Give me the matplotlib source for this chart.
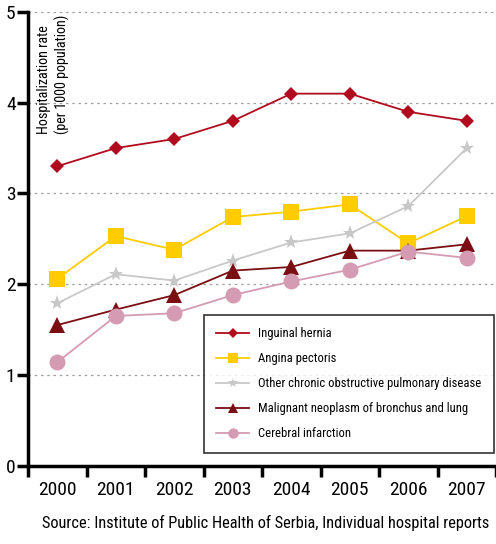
import matplotlib
matplotlib.use("Agg")
import matplotlib.pyplot as plt
from matplotlib import font_manager
from matplotlib.ticker import FixedLocator, NullFormatter

# prefer a narrow sans face for the compact labels
_available = {(f.name, f.stretch) for f in font_manager.fontManager.ttflist}
_names = {n for n, _ in _available}
_pick = None
for cand in ["Liberation Sans Narrow", "Roboto Condensed", "Open Sans Condensed",
             "Noto Sans Condensed", "DejaVu Sans Condensed", "Arial Narrow"]:
    if cand in _names:
        _pick = (cand, "normal")
        break
if _pick is None:
    for n, s in sorted(_available):
        if str(s) in ("condensed", "semi-condensed", "extra-condensed", "600", "700", "75", "87.5") \
                or "Narrow" in n or "Condensed" in n:
            _pick = (n, s)
            break
if _pick is None:
    _pick = ("DejaVu Sans", "normal")

plt.rcParams['font.family'] = [_pick[0], 'DejaVu Sans']
plt.rcParams['font.stretch'] = _pick[1]

years = ["2000", "2001", "2002", "2003", "2004", "2005", "2006", "2007"]
inguinal_hernia = [3.3, 3.5, 3.6, 3.8, 4.1, 4.1, 3.9, 3.8]
angina_pectoris = [2.06, 2.53, 2.38, 2.74, 2.80, 2.88, 2.45, 2.75]
copd = [1.79, 2.11, 2.04, 2.26, 2.46, 2.56, 2.86, 3.5]
lung_cancer = [1.55, 1.72, 1.88, 2.15, 2.19, 2.37, 2.37, 2.44]
cerebral_infarction = [1.14, 1.65, 1.68, 1.88, 2.03, 2.16, 2.36, 2.29]

series = [
    ("Inguinal hernia", inguinal_hernia, "#B00B1E", "D", 7.6),
    ("Angina pectoris", angina_pectoris, "#FFCC00", "s", 11.5),
    ("Other chronic obstructive pulmonary disease", copd, "#C8C8C8", "*", 11),
    ("Malignant neoplasm of bronchus and lung", lung_cancer, "#7A0E12", "^", 11),
    ("Cerebral infarction", cerebral_infarction, "#D49BB2", "o", 11.5),
]

fig = plt.figure(figsize=(4.96, 5.44), dpi=100)
ax = fig.add_axes([0.0565, 0.1439, 0.9435, 0.8341])

x = list(range(len(years)))
for label, vals, color, marker, ms in series:
    ax.plot(x, vals, color=color, lw=1.3, marker=marker, ms=ms,
            markeredgewidth=0, label=label, zorder=3)

ax.set_xlim(-0.5, len(years) - 0.5)
ax.set_ylim(0, 5)
ax.set_yticks([0, 1, 2, 3, 4, 5])
ax.set_yticklabels(["0", "1", "2", "3", "4", "5"], fontsize=14)
ax.yaxis.grid(True, ls=(0, (2, 3)), color="#A0A0A0", lw=0.9)
ax.set_axisbelow(True)

# tick marks sit between the years, labels under each year
ax.xaxis.set_major_locator(FixedLocator([i - 0.5 for i in range(len(years) + 1)]))
ax.xaxis.set_major_formatter(NullFormatter())
ax.xaxis.set_minor_locator(FixedLocator(x))
ax.set_xticklabels(years, minor=True, fontsize=14)
ax.tick_params(axis="x", which="minor", length=0, pad=11)
ax.tick_params(axis="x", which="major", length=8, width=2.5, direction="out")
ax.tick_params(axis="y", length=8, width=2.5, direction="out", pad=1)

for side in ("top", "right"):
    ax.spines[side].set_visible(False)
ax.spines["left"].set_linewidth(2.5)
ax.spines["bottom"].set_linewidth(2.5)

ax.text(0.02, 0.993, "Hospitalization rate\n(per 1000 population)", transform=ax.transAxes,
        rotation=90, ha="left", va="top", fontsize=10.2, linespacing=1.25)

leg = ax.legend(loc="lower right", bbox_to_anchor=(0.9957, 0.028), fontsize=9.1,
                markerscale=0.65, handlelength=2.6, frameon=True, fancybox=False,
                edgecolor="black", borderpad=1.0, labelspacing=0.95, handletextpad=0.7,
                borderaxespad=0)
leg.get_frame().set_linewidth(1.2)

fig.text(0.535, 0.03, "Source: Institute of Public Health of Serbia, Individual hospital reports",
         ha="center", va="baseline", fontsize=11.8)

fig.savefig("out.png", dpi=100)
